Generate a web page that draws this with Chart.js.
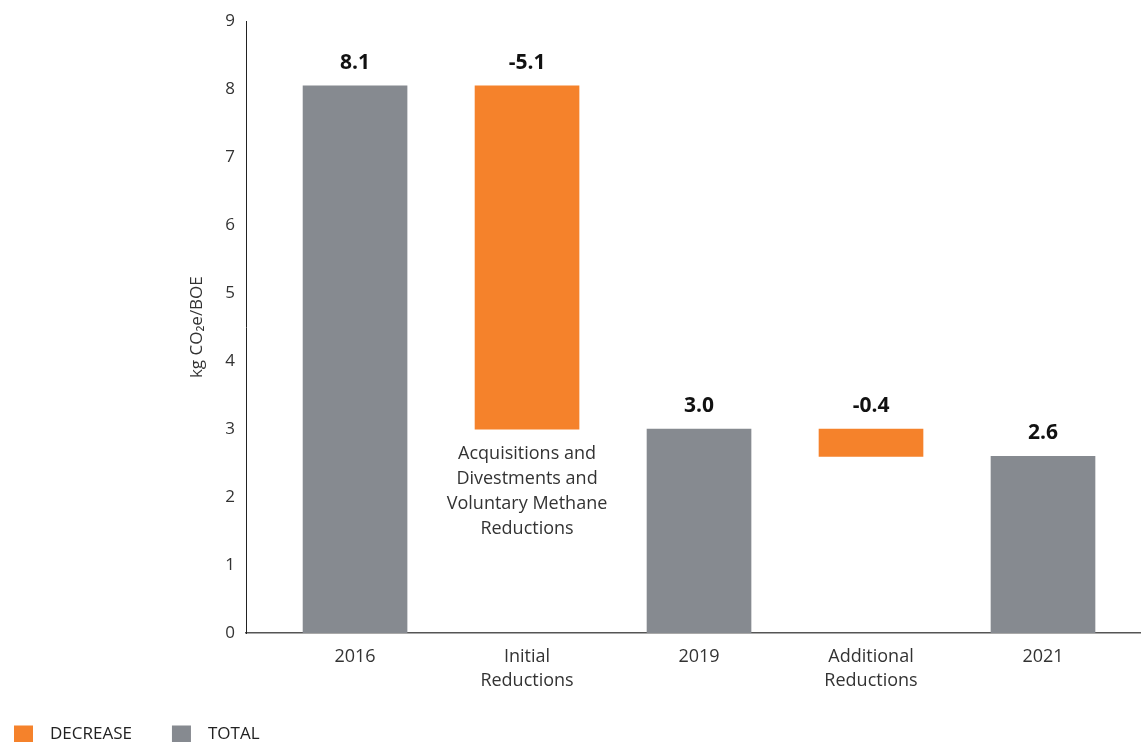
<!DOCTYPE html>
<html>
<head>
<meta charset="utf-8">
<script src="https://cdn.jsdelivr.net/npm/chart.js@4"></script>
<style>
  html, body { margin: 0; padding: 0; background: #fff; }
  #wrap { width: 1142px; height: 742px; }
</style>
</head>
<body>
<div id="wrap"><canvas id="myChart"></canvas></div>
<script>
const categories = ['2016', ['Initial', 'Reductions'], '2019', ['Additional', 'Reductions'], '2021'];
const totals = [8.05, null, 3.0, null, 2.6];
const decreaseFrom = [null, 8.05, null, 3.0, null];
const decreaseTo = [null, 3.0, null, 2.6, null];
const valueLabels = ['8.1', '-5.1', '3.0', '-0.4', '2.6'];
const noteLines = ['Acquisitions and', 'Divestments and', 'Voluntary Methane', 'Reductions'];
const yTicks = [0, 1, 2, 3, 4, 5, 6, 7, 8, 9];

const ORANGE = '#f5822b';
const GREY = '#868a90';
const FONT = "'Open Sans', sans-serif";

// points only where a value exists
const totalPoints = [];
totals.forEach((v, i) => { if (v !== null) totalPoints.push({ x: i, y: v }); });
const decreasePoints = [];
decreaseFrom.forEach((v, i) => { if (v !== null) decreasePoints.push({ x: i, y: [decreaseTo[i], v] }); });

const barLabels = {
  id: 'barLabels',
  afterDatasetsDraw(chart) {
    const ctx = chart.ctx;
    ctx.save();
    chart.data.datasets.forEach((ds, di) => {
      const meta = chart.getDatasetMeta(di);
      meta.data.forEach((el, j) => {
        const idx = ds.data[j].x;
        const top = Math.min(el.y, el.base);
        const bottom = Math.max(el.y, el.base);
        ctx.fillStyle = '#111';
        ctx.font = 'bold 21px ' + FONT;
        ctx.textAlign = 'center';
        ctx.textBaseline = 'middle';
        ctx.fillText(valueLabels[idx], el.x, top - 23);
        if (idx === 1) {
          ctx.font = '18px ' + FONT;
          ctx.fillStyle = '#333';
          noteLines.forEach((line, k) => {
            ctx.fillText(line, el.x, bottom + 25 + k * 25);
          });
        }
      });
    });
    ctx.restore();
  }
};

// simple legend at the bottom left
const bottomLegend = {
  id: 'bottomLegend',
  afterDraw(chart) {
    const ctx = chart.ctx;
    ctx.save();
    ctx.font = '17px ' + FONT;
    ctx.textBaseline = 'middle';
    ctx.textAlign = 'left';
    let x = 14;
    const y = 734;
    chart.data.datasets.forEach(ds => {
      ctx.fillStyle = ds.backgroundColor;
      ctx.fillRect(x, y - 8.5, 19, 17);
      ctx.fillStyle = '#222';
      ctx.fillText(ds.label, x + 36, y);
      x += 36 + ctx.measureText(ds.label).width + 40;
    });
    ctx.restore();
  }
};

new Chart(document.getElementById('myChart'), {
  type: 'bar',
  data: {
    datasets: [
      {
        label: 'DECREASE',
        data: decreasePoints,
        backgroundColor: ORANGE,
        borderWidth: 0,
        grouped: false,
        barThickness: 104
      },
      {
        label: 'TOTAL',
        data: totalPoints,
        backgroundColor: GREY,
        borderWidth: 0,
        grouped: false,
        barThickness: 104
      }
    ]
  },
  options: {
    responsive: true,
    maintainAspectRatio: false,
    animation: false,
    layout: { padding: { left: 0, right: 2, top: 19, bottom: 37 } },
    plugins: {
      tooltip: { enabled: false },
      legend: { display: false }
    },
    scales: {
      x: {
        type: 'linear',
        offset: false,
        min: -0.634,
        max: 4.564,
        afterBuildTicks: (scale) => { scale.ticks = categories.map((c, i) => ({ value: i })); },
        grid: { display: false, drawTicks: false },
        border: { display: true, color: '#555', width: 1.5 },
        ticks: {
          padding: 12,
          color: '#333',
          font: { family: FONT, size: 18, lineHeight: 1.33 },
          maxRotation: 0,
          autoSkip: false,
          callback: (v) => categories[v]
        }
      },
      y: {
        min: 0,
        max: 9,
        afterBuildTicks: (scale) => { scale.ticks = yTicks.map(v => ({ value: v })); },
        afterFit: (scale) => { scale.width = 246; },
        grid: { display: false, drawTicks: false },
        border: { display: true, color: '#222', width: 1 },
        ticks: {
          padding: 11,
          color: '#333',
          font: { family: FONT, size: 17 }
        },
        title: {
          display: true,
          text: 'kg CO\u2082e/BOE',
          color: '#333',
          font: { family: FONT, size: 17 },
          padding: { top: 187, bottom: 0 }
        }
      }
    }
  },
  plugins: [barLabels, bottomLegend]
});
</script>
</body>
</html>
